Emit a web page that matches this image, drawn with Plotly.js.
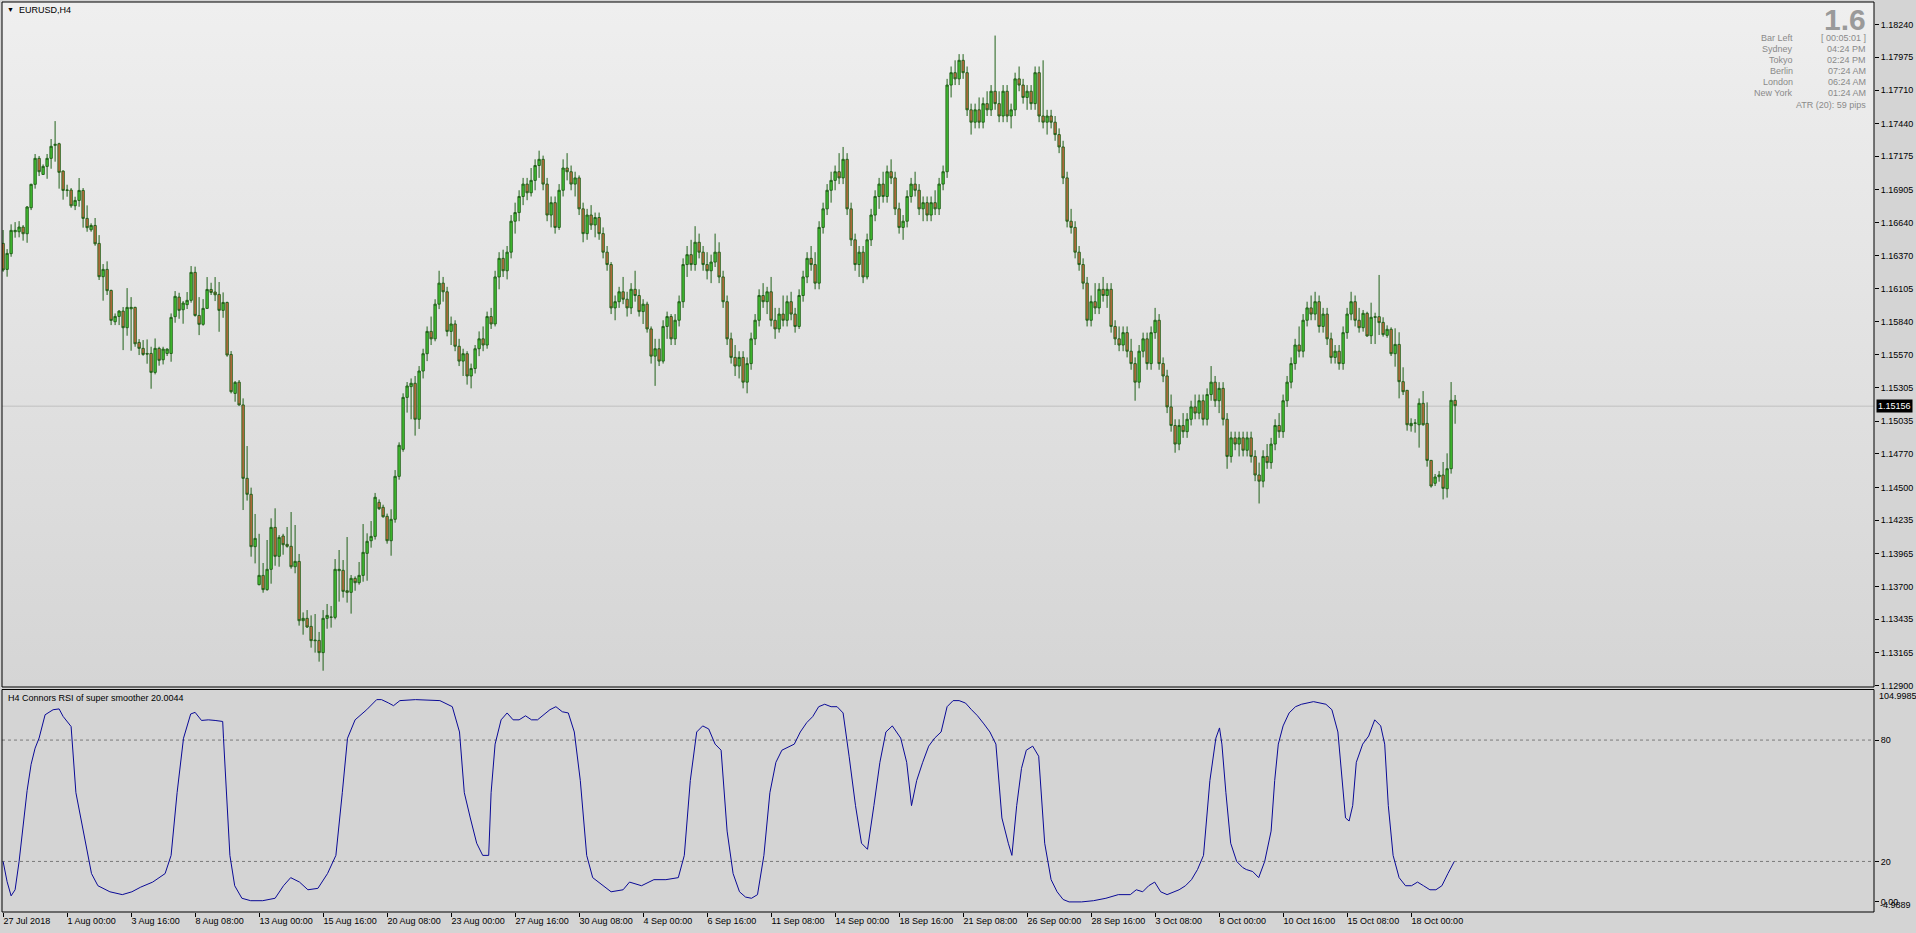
<!DOCTYPE html>
<html><head><meta charset="utf-8">
<script src="https://cdn.plot.ly/plotly-3.0.1.min.js"></script>
<style>html,body{margin:0;padding:0;background:#d4d4d4;overflow:hidden}#chart{width:1916px;height:933px}</style>
</head><body><div id="chart"></div>
<script>
// ---- data (EURUSD H4, bar index 0 = 27 Jul 2018 08:00) ----
const opens=[1.16471,1.16261,1.16388,1.16565,1.16565,1.16603,1.16549,1.16759,1.16948,1.17158,1.17028,1.17093,1.17158,1.17263,1.17276,1.17055,1.16899,1.16902,1.16775,1.16818,1.16899,1.16673,1.16581,1.16616,1.16471,1.16202,1.16261,1.16091,1.15838,1.15881,1.15924,1.15790,1.15943,1.15954,1.15671,1.15623,1.15582,1.15582,1.15429,1.15623,1.15531,1.15582,1.15582,1.15879,1.16037,1.15935,1.15976,1.16011,1.16237,1.15889,1.15817,1.15946,1.16099,1.16078,1.16059,1.15930,1.15994,1.15574,1.15259,1.15350,1.15166,1.14573,1.14444,1.14021,1.13714,1.13789,1.13674,1.13838,1.14177,1.13943,1.14107,1.14040,1.14024,1.13859,1.13902,1.13423,1.13442,1.13377,1.13267,1.13264,1.13165,1.13442,1.13450,1.13450,1.13827,1.13830,1.13665,1.13652,1.13765,1.13730,1.13789,1.13967,1.14069,1.14104,1.14379,1.14339,1.14266,1.14069,1.14242,1.14589,1.14807,1.15227,1.15314,1.15341,
1.15050,1.15440,1.15580,1.15760,1.15700,1.15980,1.16150,1.16080,1.15760,1.15820,
1.15640,1.15520,1.15580,1.15400,1.15460,1.15620,1.15700,1.15650,1.15880,1.15820,
1.16200,1.16350,1.16250,1.16400,1.16650,1.16720,1.16850,1.16950,1.16880,1.16980,
1.17100,1.17150,1.16950,1.16700,1.16800,1.16600,1.16900,1.17080,1.17050,1.16950,
1.17000,1.16750,1.16550,1.16700,1.16620,1.16680,1.16550,1.16400,1.16300,1.15950,
1.16000,1.16080,1.16020,1.15950,1.16100,1.16050,1.15920,1.15980,1.15780,1.15560,
1.15620,1.15520,1.15800,1.15880,1.15700,1.15850,1.16000,1.16300,1.16380,1.16300,
1.16480,1.16400,1.16300,1.16250,1.16320,1.16400,1.16200,1.16000,1.15700,1.15550,
1.15480,1.15550,1.15350,1.15500,1.15700,1.15850,1.16050,1.16000,1.16080,1.15850,
1.15780,1.15900,1.15850,1.16000,1.15900,1.15800,1.16050,1.16200,1.16350,1.16300,
1.16150,1.16600,1.16750,1.16900,1.16980,1.17050,1.17000,1.17150,1.16750,1.16500,
1.16300,1.16400,1.16200,1.16500,1.16700,1.16850,1.16950,1.16850,1.17050,1.17000,
1.16750,1.16600,1.16650,1.16850,1.16950,1.16900,1.16750,1.16800,1.16700,1.16800,
1.16750,1.16950,1.17050,1.17750,1.17850,1.17800,1.17950,1.17850,1.17550,1.17450,
1.17550,1.17450,1.17600,1.17550,1.17700,1.17600,1.17500,1.17700,1.17500,1.17550,
1.17800,1.17750,1.17650,1.17700,1.17600,1.17850,1.17500,1.17450,1.17500,1.17450,
1.17350,1.17250,1.17000,1.16650,1.16600,1.16400,1.16300,1.16150,1.15850,1.16000,
1.15950,1.16100,1.16050,1.16100,1.15800,1.15700,1.15650,1.15750,1.15600,1.15500,
1.15350,1.15600,1.15700,1.15500,1.15750,1.15850,1.15500,1.15400,1.15150,1.15000,
1.14850,1.15000,1.14950,1.15050,1.15150,1.15100,1.15200,1.15050,1.15250,1.15350,
1.15200,1.15300,1.15050,1.14750,1.14900,1.14850,1.14900,1.14800,1.14900,1.14750,
1.14600,1.14550,1.14750,1.14700,1.14850,1.15000,1.14950,1.15200,1.15350,1.15500,
1.15650,1.15600,1.15850,1.15950,1.15900,1.16000,1.15800,1.15900,1.15700,1.15550,
1.15600,1.15500,1.15750,1.15900,1.16000,1.15850,1.15790,1.15906,1.15725,1.15879,
1.15879,1.15833,1.15728,1.15777,1.15580,1.15655,1.15354,1.15284,1.14998,1.15017,
1.15006,1.15179,1.15017,1.14718,1.14533,1.14586,1.14600,1.14489,1.14651,1.15203];
const highs=[1.16579,1.16425,1.16625,1.16643,1.16651,1.16619,1.16773,1.16953,1.17193,1.17177,1.17109,1.17193,1.17314,1.17459,1.17284,1.17061,1.16945,1.16918,1.16848,1.16999,1.16918,1.16778,1.16633,1.16676,1.16538,1.16304,1.16326,1.16097,1.15905,1.15932,1.15957,1.16110,1.16037,1.15959,1.15698,1.15690,1.15695,1.15636,1.15703,1.15636,1.15636,1.15623,1.15905,1.16086,1.16072,1.16005,1.16078,1.16288,1.16283,1.16037,1.16021,1.16199,1.16153,1.16199,1.16159,1.16075,1.16000,1.15601,1.15359,1.15367,1.15219,1.14834,1.14498,1.14285,1.14125,1.13889,1.14075,1.14250,1.14331,1.14115,1.14125,1.14180,1.14301,1.14196,1.13962,1.13490,1.13509,1.13466,1.13477,1.13332,1.13509,1.13558,1.13542,1.13921,1.13994,1.13913,1.14099,1.13792,1.13781,1.13897,1.14204,1.14129,1.14228,1.14455,1.14403,1.14360,1.14288,1.14323,1.14640,1.14864,1.15260,1.15351,1.15380,1.15400,
1.15480,1.15620,1.15800,1.15880,1.16020,1.16250,1.16200,1.16120,1.15880,1.15850,
1.15700,1.15620,1.15600,1.15500,1.15650,1.15760,1.15800,1.15920,1.15950,1.16250,
1.16400,1.16420,1.16450,1.16700,1.16800,1.16900,1.17000,1.17000,1.17080,1.17150,
1.17220,1.17180,1.17000,1.16850,1.16850,1.16950,1.17150,1.17200,1.17100,1.17050,
1.17020,1.16800,1.16750,1.16780,1.16720,1.16720,1.16600,1.16450,1.16320,1.16050,
1.16120,1.16200,1.16080,1.16150,1.16250,1.16100,1.16020,1.16000,1.15800,1.15700,
1.15700,1.15850,1.15920,1.15900,1.15900,1.16050,1.16350,1.16450,1.16500,1.16610,
1.16550,1.16450,1.16400,1.16380,1.16550,1.16480,1.16250,1.16050,1.15750,1.15650,
1.15600,1.15600,1.15550,1.15750,1.15900,1.16100,1.16150,1.16120,1.16200,1.15950,
1.15950,1.16050,1.16050,1.16080,1.15950,1.16100,1.16250,1.16400,1.16450,1.16400,
1.16650,1.16800,1.16950,1.17050,1.17100,1.17200,1.17250,1.17200,1.16800,1.16550,
1.16450,1.16450,1.16550,1.16750,1.16900,1.17000,1.17050,1.17100,1.17150,1.17050,
1.16800,1.16700,1.16900,1.17000,1.17050,1.16950,1.16850,1.16850,1.16850,1.16900,
1.17000,1.17100,1.17800,1.17900,1.17950,1.18000,1.18000,1.17900,1.17600,1.17600,
1.17650,1.17650,1.17700,1.17750,1.18150,1.17700,1.17750,1.17750,1.17600,1.17850,
1.17900,1.17800,1.17750,1.17750,1.17900,1.17900,1.17950,1.17550,1.17550,1.17500,
1.17400,1.17300,1.17050,1.16750,1.16650,1.16450,1.16350,1.16200,1.16050,1.16150,
1.16150,1.16200,1.16150,1.16150,1.15850,1.15800,1.15800,1.15800,1.15700,1.15550,
1.15650,1.15750,1.15750,1.15800,1.15950,1.15900,1.15550,1.15450,1.15250,1.15050,
1.15050,1.15100,1.15100,1.15200,1.15250,1.15250,1.15250,1.15300,1.15480,1.15400,
1.15350,1.15350,1.15100,1.14950,1.14950,1.14950,1.14950,1.14950,1.14950,1.14800,
1.14700,1.14800,1.14850,1.14900,1.15050,1.15100,1.15250,1.15400,1.15550,1.15700,
1.15800,1.15900,1.16000,1.16050,1.16080,1.16050,1.15950,1.15950,1.15750,1.15650,
1.15650,1.15800,1.15950,1.16080,1.16050,1.15950,1.15933,1.15919,1.15992,1.15911,
1.16216,1.15874,1.15809,1.15793,1.15785,1.15753,1.15470,1.15284,1.15058,1.15052,
1.15219,1.15278,1.15187,1.14721,1.14608,1.14632,1.14705,1.14775,1.15351,1.15246];
const lows=[1.16242,1.16202,1.16363,1.16517,1.16520,1.16493,1.16476,1.16740,1.16913,1.17015,1.17026,1.16993,1.17074,1.17131,1.16913,1.16824,1.16848,1.16759,1.16740,1.16767,1.16598,1.16565,1.16565,1.16452,1.16175,1.16008,1.16054,1.15811,1.15811,1.15811,1.15609,1.15725,1.15604,1.15636,1.15569,1.15563,1.15499,1.15297,1.15413,1.15483,1.15493,1.15561,1.15515,1.15830,1.15862,1.15822,1.15941,1.15992,1.15879,1.15730,1.15806,1.15943,1.16054,1.16005,1.15757,1.15870,1.15555,1.15259,1.15192,1.15160,1.14317,1.14393,1.13940,1.13886,1.13709,1.13649,1.13665,1.13722,1.13867,1.13859,1.13956,1.14013,1.13843,1.13806,1.13383,1.13310,1.13364,1.13205,1.13165,1.13092,1.13019,1.13358,1.13367,1.13434,1.13577,1.13609,1.13569,1.13480,1.13665,1.13714,1.13738,1.13746,1.14013,1.14078,1.14317,1.14255,1.14045,1.13948,1.14215,1.14562,1.14788,1.15104,1.15050,1.14918,
1.14972,1.15380,1.15520,1.15650,1.15680,1.15940,1.16000,1.15720,1.15650,1.15600,
1.15480,1.15400,1.15330,1.15300,1.15420,1.15560,1.15600,1.15620,1.15780,1.15800,
1.16100,1.16200,1.16180,1.16350,1.16550,1.16650,1.16780,1.16820,1.16850,1.16900,
1.17000,1.16900,1.16650,1.16600,1.16550,1.16580,1.16850,1.16980,1.16900,1.16850,
1.16700,1.16480,1.16500,1.16580,1.16520,1.16500,1.16350,1.16250,1.15900,1.15850,
1.15950,1.15980,1.15880,1.15900,1.16000,1.15880,1.15820,1.15750,1.15500,1.15320,
1.15480,1.15500,1.15700,1.15650,1.15650,1.15800,1.15950,1.16200,1.16250,1.16250,
1.16350,1.16250,1.16180,1.16150,1.16280,1.16150,1.15950,1.15650,1.15500,1.15400,
1.15380,1.15300,1.15260,1.15450,1.15650,1.15800,1.15950,1.15900,1.15800,1.15700,
1.15750,1.15800,1.15800,1.15850,1.15750,1.15780,1.16000,1.16150,1.16250,1.16100,
1.16100,1.16550,1.16700,1.16800,1.16900,1.16950,1.16950,1.16700,1.16450,1.16250,
1.16200,1.16150,1.16180,1.16450,1.16650,1.16750,1.16800,1.16800,1.16950,1.16700,
1.16550,1.16500,1.16600,1.16800,1.16850,1.16700,1.16650,1.16650,1.16650,1.16700,
1.16700,1.16900,1.17000,1.17650,1.17750,1.17750,1.17800,1.17500,1.17350,1.17400,
1.17400,1.17400,1.17500,1.17500,1.17550,1.17450,1.17450,1.17450,1.17400,1.17500,
1.17700,1.17600,1.17550,1.17550,1.17550,1.17450,1.17400,1.17350,1.17400,1.17300,
1.17200,1.16950,1.16600,1.16550,1.16350,1.16250,1.16100,1.15800,1.15800,1.15900,
1.15900,1.16000,1.15950,1.15750,1.15650,1.15600,1.15600,1.15550,1.15450,1.15200,
1.15300,1.15550,1.15450,1.15450,1.15700,1.15450,1.15350,1.15100,1.14950,1.14780,
1.14800,1.14900,1.14900,1.15000,1.15050,1.15050,1.15000,1.15000,1.15200,1.15150,
1.15100,1.15000,1.14650,1.14700,1.14800,1.14750,1.14750,1.14750,1.14700,1.14550,
1.14370,1.14500,1.14650,1.14650,1.14800,1.14900,1.14900,1.15150,1.15300,1.15450,
1.15550,1.15550,1.15800,1.15850,1.15850,1.15750,1.15750,1.15650,1.15500,1.15500,
1.15450,1.15450,1.15700,1.15850,1.15800,1.15750,1.15758,1.15717,1.15658,1.15658,
1.15731,1.15717,1.15709,1.15561,1.15475,1.15219,1.15246,1.14958,1.14950,1.14942,
1.14821,1.14998,1.14667,1.14498,1.14511,1.14546,1.14403,1.14417,1.14611,1.15014];
const closes=[1.16256,1.16390,1.16576,1.16576,1.16603,1.16549,1.16765,1.16948,1.17158,1.17050,1.17093,1.17158,1.17255,1.17271,1.17045,1.16899,1.16902,1.16775,1.16818,1.16899,1.16673,1.16598,1.16616,1.16468,1.16202,1.16261,1.16089,1.15849,1.15881,1.15924,1.15790,1.15954,1.15954,1.15660,1.15623,1.15574,1.15577,1.15429,1.15623,1.15526,1.15617,1.15617,1.15873,1.16043,1.15930,1.15989,1.16011,1.16237,1.15889,1.15817,1.15946,1.16099,1.16075,1.16056,1.15930,1.15994,1.15569,1.15273,1.15348,1.15166,1.14573,1.14444,1.14021,1.14088,1.13789,1.13674,1.13838,1.14177,1.13943,1.14096,1.14037,1.14024,1.13859,1.13902,1.13423,1.13442,1.13372,1.13262,1.13262,1.13165,1.13442,1.13466,1.13452,1.13838,1.13838,1.13660,1.13652,1.13765,1.13730,1.13789,1.13975,1.14064,1.14104,1.14420,1.14328,1.14263,1.14069,1.14242,1.14589,1.14840,1.15227,1.15319,1.15341,1.15050,
1.15440,1.15580,1.15760,1.15700,1.15980,1.16150,1.16080,1.15760,1.15820,1.15640,
1.15520,1.15580,1.15400,1.15460,1.15620,1.15700,1.15650,1.15880,1.15820,1.16200,
1.16350,1.16250,1.16400,1.16650,1.16720,1.16850,1.16950,1.16880,1.16980,1.17100,
1.17150,1.16950,1.16700,1.16800,1.16600,1.16900,1.17080,1.17050,1.16950,1.17000,
1.16750,1.16550,1.16700,1.16620,1.16680,1.16550,1.16400,1.16300,1.15950,1.16000,
1.16080,1.16020,1.15950,1.16100,1.16050,1.15920,1.15980,1.15780,1.15560,1.15620,
1.15520,1.15800,1.15880,1.15700,1.15850,1.16000,1.16300,1.16380,1.16300,1.16480,
1.16400,1.16300,1.16250,1.16320,1.16400,1.16200,1.16000,1.15700,1.15550,1.15480,
1.15550,1.15350,1.15500,1.15700,1.15850,1.16050,1.16000,1.16080,1.15850,1.15780,
1.15900,1.15850,1.16000,1.15900,1.15800,1.16050,1.16200,1.16350,1.16300,1.16150,
1.16600,1.16750,1.16900,1.16980,1.17050,1.17000,1.17150,1.16750,1.16500,1.16300,
1.16400,1.16200,1.16500,1.16700,1.16850,1.16950,1.16850,1.17050,1.17000,1.16750,
1.16600,1.16650,1.16850,1.16950,1.16900,1.16750,1.16800,1.16700,1.16800,1.16750,
1.16950,1.17050,1.17750,1.17850,1.17800,1.17950,1.17850,1.17550,1.17450,1.17550,
1.17450,1.17600,1.17550,1.17700,1.17600,1.17500,1.17700,1.17500,1.17550,1.17800,
1.17750,1.17650,1.17700,1.17600,1.17850,1.17500,1.17450,1.17500,1.17450,1.17350,
1.17250,1.17000,1.16650,1.16600,1.16400,1.16300,1.16150,1.15850,1.16000,1.15950,
1.16100,1.16050,1.16100,1.15800,1.15700,1.15650,1.15750,1.15600,1.15500,1.15350,
1.15600,1.15700,1.15500,1.15750,1.15850,1.15500,1.15400,1.15150,1.15000,1.14850,
1.15000,1.14950,1.15050,1.15150,1.15100,1.15200,1.15050,1.15250,1.15350,1.15200,
1.15300,1.15050,1.14750,1.14900,1.14850,1.14900,1.14800,1.14900,1.14750,1.14600,
1.14550,1.14750,1.14700,1.14850,1.15000,1.14950,1.15200,1.15350,1.15500,1.15650,
1.15600,1.15850,1.15950,1.15900,1.16000,1.15800,1.15900,1.15700,1.15550,1.15600,
1.15500,1.15750,1.15900,1.16000,1.15850,1.15790,1.15906,1.15723,1.15874,1.15874,
1.15831,1.15734,1.15777,1.15580,1.15655,1.15354,1.15273,1.15006,1.15017,1.15020,
1.15179,1.15006,1.14718,1.14511,1.14584,1.14600,1.14492,1.14651,1.15203,1.15160];
const rsiBar=[0,1,2,3,4,5,6,7,8,9,10.5,12.5,14,15,17,18.2,19.1,20.6,22.1,23.7,26.7,29.8,32.2,34.4,37.4,40.5,42,43.5,45.1,46.9,48,49.6,51.3,53,54.9,55.1,56.7,57.9,59.7,61.9,64.9,68,70.1,71.9,74.1,76.2,78.7,81.1,83.2,84.8,86.1,88,90.9,93.4,94.6,96.3,97.6,99.2,103.1,109.2,112.3,114.1,115.3,116.8,118.4,119.9,121.4,122,123,124.5,126,127.5,129,130.6,132.1,133.6,136.7,138.2,139.8,141.3,142.8,144.3,145.9,147.4,148.9,152,155,156.6,159.6,162.7,165.7,168.8,170.3,171.8,173.4,174.9,176.4,178,179.5,181,182.5,184.1,185.6,187.1,188.6,190.2,191.7,193.2,194.7,197.8,199.3,200.9,202.4,203.9,205.4,207,208.5,210,211.5,213.1,214.6,216.1,217.7,219.2,220.7,222.3,224.4,225.9,227.1,228.4,229.9,231.4,232.9,234.5,236,237.5,239,240.6,242.1,243.6,245.2,246.7,248.2,249.1,249.7,251.3,252.2,253.4,254.6,255.8,257.4,258.9,259.5,260.4,262,263.5,265,266.5,269.6,272.6,275.7,278.8,281.8,283.3,284.9,286.4,287.9,289.4,291,292.5,294,295.6,297.1,298.6,300.1,301.7,303.2,304.1,304.7,305.7,306.9,308.4,309.9,310.8,312.4,313.9,315.4,317,317.9,318.8,320,321.5,323.1,324.6,327.6,330.7,332.2,333.7,334.7,335.6,336.5,337.4,338.3,339.9,341.4,342.9,344.4,345.4,346.3,347.5,349,350.6,352.1,353.6,355.1,356.7,358.2,359.7,361.2,362.8];
const rsiVal=[20,10,3,6,20,38,55,68,76,81,92.5,95,95.4,91.7,86.7,54,44.6,29,14,8,5,3.6,5,7.3,9.8,14,23,54,80.9,92.9,93.7,89.7,90,89.7,89.2,80.9,23,8,1.8,0.6,0.6,1.8,8,12,9.8,6,6.7,14,23,54,80.9,90,95,100,100,98.4,97,99.5,100,99.5,96.5,84,54,41.5,29,23,23,54,78,90,93.4,90,90,92,90,90,95,96.5,94,93.4,84,60,23,12,9.8,5,6,9.8,8,11,11,12,23,60,84,87,85.5,78,75,35,14,5,2.4,1.8,3.6,23,54,69,75,78,84,88.6,91.6,96.5,97.7,96.5,96.5,93.4,72,47.6,29,26,47.6,69,84,87,81,69,47.6,60,69,77,81,84,96.5,99.5,99.5,98.3,95,92,88,84,78,54,41.5,29,23,47.6,66,75,77,72,54,29,11,5,1.2,0,0,0.6,1.8,3.6,3.6,6,5,8,9.8,5,3.6,5,6,8,11,16,23,60,81,86,78,54,29,20,17,16,15,12,20,35,60,78,87,93.4,96.5,97.7,99,97.7,95,84,60,41.5,40,47.6,69,78,82,90,87,78,47.6,23,12,8,8,9.8,8,6,6,8,14,20];
const timeTickBars=[0,16,32,48,64,80,96,112,128,144,160,176,192,208,224,240,256,272,288,304,320,336,352];
const timeTickLabels=['27 Jul 2018','1 Aug 00:00','3 Aug 16:00','8 Aug 08:00','13 Aug 00:00','15 Aug 16:00','20 Aug 08:00','23 Aug 00:00','27 Aug 16:00','30 Aug 08:00','4 Sep 00:00','6 Sep 16:00','11 Sep 08:00','14 Sep 00:00','18 Sep 16:00','21 Sep 08:00','26 Sep 00:00','28 Sep 16:00','3 Oct 08:00','8 Oct 00:00','10 Oct 16:00','15 Oct 08:00','18 Oct 00:00'];
const priceTicks=[1.18240,1.17975,1.17710,1.17440,1.17175,1.16905,1.16640,1.16370,1.16105,1.15840,1.15570,1.15305,1.15035,1.14770,1.14500,1.14235,1.13965,1.13700,1.13435,1.13165,1.12900];
const rsiTicks=[80,20,0];
const rsiTickLabels=['80','20','0.00'];
const rsiLevels=[80,20];
const rsiMax=104.9985, rsiMin=-4.9889;
const lastPrice=1.15156;
const symbolTitle='EURUSD,H4';
const indicatorTitle='H4 Connors RSI of super smoother 20.0044';
const infoBig='1.6';
const infoLabels=['Bar Left','Sydney','Tokyo','Berlin','London','New York'];
const infoValues=['[ 00:05:01 ]','04:24 PM','02:24 PM','07:24 AM','06:24 AM','01:24 AM'];
const atrText='ATR (20): 59 pips';

// ---- layout geometry (pixels) ----
const W=1916,H=933,L=2,R=1874,T=2,B=912;
const pw=R-L, ph=B-T;
const px=x=>(x-L)/pw, py=y=>(B-y)/ph;
const upperDom=[py(687),1], lowerDom=[0,py(689.5)];
const priceRange=[1.128874,1.184210];
const xRange=[-0.275,467.725];
const FONT='Liberation Sans, Arial, sans-serif';
const idx=opens.map((_,i)=>i);

const bgSvg='<svg xmlns="http://www.w3.org/2000/svg" width="10" height="100" preserveAspectRatio="none"><defs><linearGradient id="g" x1="0" y1="0" x2="0" y2="1"><stop offset="0" stop-color="#efefef"/><stop offset="1" stop-color="#d5d5d5"/></linearGradient></defs><rect width="10" height="100" fill="url(#g)"/></svg>';

const traces=[
 {type:'candlestick',x:idx,open:opens,high:highs,low:lows,close:closes,xaxis:'x',yaxis:'y',
  increasing:{line:{color:'#22621a',width:1},fillcolor:'#46cc34'},
  decreasing:{line:{color:'#22621a',width:1},fillcolor:'#d86c44'},
  whiskerwidth:0,hoverinfo:'skip',showlegend:false},
 {type:'scatter',mode:'lines',x:rsiBar,y:rsiVal,xaxis:'x',yaxis:'y2',line:{color:'#0a0a96',width:1},hoverinfo:'skip',showlegend:false}
];

const ann=[];
function txt(text,x,y,opt){ann.push(Object.assign({text:text,xref:'paper',yref:'paper',x:px(x),y:py(y),showarrow:false,xanchor:'left',yanchor:'middle',font:{family:FONT,size:9,color:'#000'}},opt||{}));}
txt('▼',5,10,{font:{family:FONT,size:7,color:'#000'}});
txt(symbolTitle,17,10);
txt(indicatorTitle,6,698);
txt(infoBig,1868,19,{xanchor:'right',font:{family:FONT,size:30,color:'#9a9a9a',weight:'bold'}});
infoLabels.forEach((s,k)=>{txt(s,1795,38+11*k,{xanchor:'right',font:{family:FONT,size:9,color:'#8a8a8a'}});txt(infoValues[k],1868,38+11*k,{xanchor:'right',font:{family:FONT,size:9,color:'#8a8a8a'}});});
txt(atrText,1868,105,{xanchor:'right',font:{family:FONT,size:9,color:'#8a8a8a'}});
ann.push({text:lastPrice.toFixed(5),xref:'paper',yref:'y',x:px(1876),y:lastPrice,xanchor:'left',yanchor:'middle',showarrow:false,bgcolor:'#000',borderpad:1,font:{family:FONT,size:9,color:'#fff'}});
txt(rsiMax.toFixed(4),1877,696);
txt(rsiMin.toFixed(4),1878,905);

const shapes=[
 {type:'line',xref:'paper',x0:0,x1:1,yref:'y',y0:lastPrice,y1:lastPrice,line:{color:'#c0c0c0',width:1},layer:'below'},
 ...rsiLevels.map(v=>({type:'line',xref:'paper',x0:0,x1:1,yref:'y2',y0:v,y1:v,line:{color:'#7a7a7a',width:1,dash:'3px,3px'},layer:'below'})),
 {type:'rect',xref:'paper',yref:'paper',x0:0,x1:1,y0:upperDom[0],y1:1,line:{color:'#000',width:1}},
 {type:'rect',xref:'paper',yref:'paper',x0:0,x1:1,y0:0,y1:lowerDom[1],line:{color:'#000',width:1}}
];

const layout={
 width:W,height:H,margin:{l:L,r:W-R,t:T,b:H-B,pad:0},
 paper_bgcolor:'#d4d4d4',plot_bgcolor:'#d4d4d4',showlegend:false,
 font:{family:FONT,size:9,color:'#000'},
 boxgap:0.42,boxgroupgap:0,
 xaxis:{domain:[0,1],anchor:'y2',range:xRange,showgrid:false,zeroline:false,showline:false,
   tickmode:'array',tickvals:timeTickBars,ticktext:timeTickLabels,ticks:'outside',ticklen:4,tickcolor:'#000',
   ticklabelposition:'outside right',tickfont:{family:FONT,size:9,color:'#000'},rangeslider:{visible:false},fixedrange:true},
 yaxis:{domain:upperDom,anchor:'x',side:'right',range:priceRange,showgrid:false,zeroline:false,showline:false,
   tickmode:'array',tickvals:priceTicks,ticktext:priceTicks.map(v=>v.toFixed(5)),ticks:'outside',ticklen:4,tickcolor:'#000',
   tickfont:{family:FONT,size:9,color:'#000'},fixedrange:true},
 yaxis2:{domain:lowerDom,anchor:'x',side:'right',range:[rsiMin,rsiMax],showgrid:false,zeroline:false,showline:false,
   tickmode:'array',tickvals:rsiTicks,ticktext:rsiTickLabels,ticks:'outside',ticklen:4,tickcolor:'#000',
   tickfont:{family:FONT,size:9,color:'#000'},fixedrange:true},
 images:[{source:'data:image/svg+xml;charset=utf-8,'+encodeURIComponent(bgSvg),xref:'paper',yref:'paper',x:0,y:1,sizex:1,sizey:1-upperDom[0],sizing:'stretch',xanchor:'left',yanchor:'top',layer:'below'}],
 annotations:ann,shapes:shapes
};
Plotly.newPlot('chart',traces,layout,{staticPlot:true,displayModeBar:false});
</script></body></html>
